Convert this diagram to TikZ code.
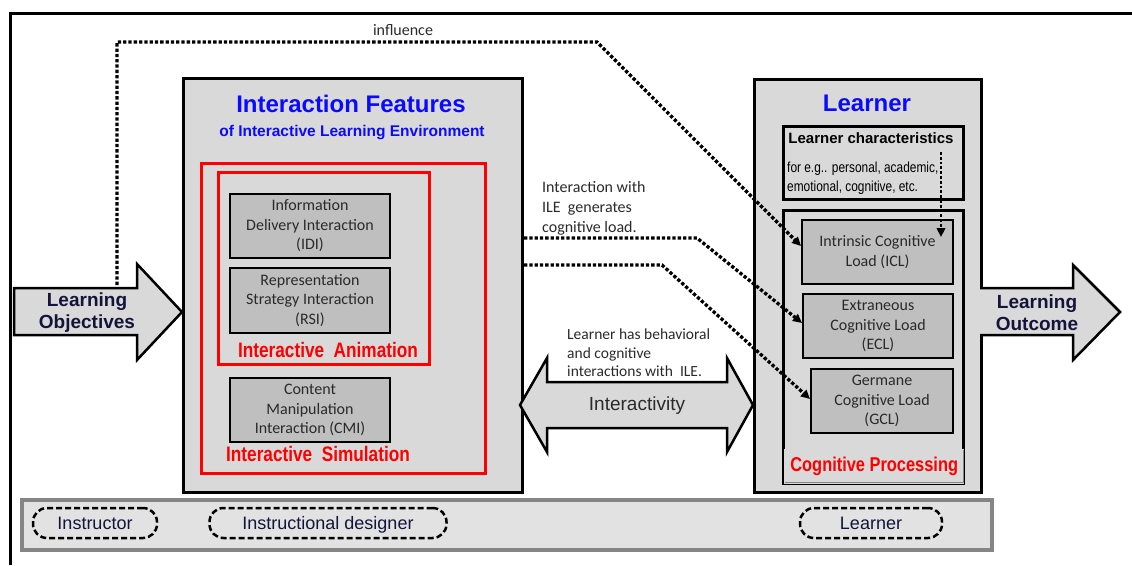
\documentclass[tikz,border=0pt]{standalone}
\usepackage{fontspec}
\setmainfont{Liberation Sans}
\newfontfamily\calib{Carlito}
\newfontfamily\narrowf[FakeStretch=0.82]{Liberation Sans}
\usetikzlibrary{arrows.meta}
\definecolor{boxgray}{HTML}{D9D9D9}
\definecolor{ingray}{HTML}{BFBFBF}
\definecolor{bandfill}{HTML}{E2E2E2}
\definecolor{bandedge}{HTML}{858585}
\definecolor{ttblue}{HTML}{0A0AFF}
\definecolor{ttred}{HTML}{FF0000}
\definecolor{txtgray}{HTML}{2A2A2A}
\definecolor{navy}{HTML}{14143A}
\tikzset{
  bigbox/.style={draw=black, line width=3pt, fill=boxgray, anchor=north west, inner sep=0pt},
  redbox/.style={draw=ttred, line width=3pt, anchor=north west, inner sep=0pt},
  inbox/.style={draw=black, line width=2pt, fill=ingray, anchor=north west, inner sep=0pt,
    text=txtgray, align=center, font=\calib\fontsize{16}{19.5}\selectfont},
  fatarrow/.style={draw=black, line width=2.5pt, fill=boxgray, line join=miter},
  dotln/.style={line width=3.3pt, dash pattern=on 3.3pt off 2pt},
  tipa/.style={-{Triangle[length=9pt,width=8.5pt]}},
  actor/.style={draw=black, line width=2.5pt, dash pattern=on 6pt off 3pt, rounded corners=14pt,
    fill=bandfill, minimum height=30pt, inner sep=0pt, text=navy, text height=15pt, text depth=2pt,
    font=\fontsize{18}{20}\selectfont},
  midtext/.style={anchor=west, align=left, text=txtgray, inner sep=0pt}
}
\begin{document}
\begin{tikzpicture}[x=1pt,y=-1pt]
\useasboundingbox (0,0) rectangle (1132,565);
% outer frame
\draw[line width=3pt] (10,565) -- (10,13) -- (1132,13);

% bottom band
\node[draw=bandedge, line width=3.5pt, fill=bandfill, anchor=north west, inner sep=0pt,
  minimum width=970pt, minimum height=50pt] (band) at (20,498) {};
\node[actor, minimum width=124pt] (instr) at (95,523) {Instructor};
\node[actor, minimum width=237pt] (idesign) at (328,523) {Instructional designer};
\node[actor, minimum width=142pt] (learnact) at (871,523) {Learner};

% Interaction features box
\node[bigbox, minimum width=339pt, minimum height=414pt] (ife) at (182,77) {};
\node[text=ttblue, font=\bfseries\fontsize{24}{26}\selectfont] (ifetitle) at (351,104) {Interaction Features};
\node[text=ttblue, font=\bfseries\fontsize{15.5}{17}\selectfont] (ifesub) at (352,133) {of Interactive Learning Environment};
\node[redbox, minimum width=284pt, minimum height=310pt] (simbox) at (200,162) {};
\node[redbox, minimum width=211pt, minimum height=192pt] (animbox) at (217,171) {};
\node[inbox, minimum width=160pt, minimum height=64pt] (idi) at (229,193) {Information\\Delivery Interaction\\(IDI)};
\node[inbox, minimum width=160pt, minimum height=65pt] (rsi) at (229,267) {Representation\\Strategy Interaction\\(RSI)};
\node[inbox, minimum width=160pt, minimum height=64pt] (cmi) at (229,377) {Content\\Manipulation\\Interaction (CMI)};
\node[text=ttred, font=\narrowf\bfseries\fontsize{21}{23}\selectfont] (animlab) at (328,350) {Interactive\ \ Animation};
\node[text=ttred, font=\narrowf\bfseries\fontsize{21}{23}\selectfont] (simlab) at (318,454) {Interactive\ \ Simulation};

% Learner box
\node[bigbox, minimum width=227pt, minimum height=413pt] (lbox) at (753,78) {};
\node[text=ttblue, font=\bfseries\fontsize{24}{26}\selectfont] (ltitle) at (867,103) {Learner};
\node[bigbox, minimum width=180pt, minimum height=73pt] (lchar) at (782,125) {};
\node[font=\bfseries\fontsize{15}{17}\selectfont] (lchartitle) at (871,138) {Learner characteristics};
\node[anchor=west, align=left, inner sep=0pt, font=\narrowf\fontsize{14.5}{19}\selectfont] (lchartext) at (787,178) {for e.g.. personal, academic,\\emotional, cognitive, etc.};
\node[bigbox, minimum width=180pt, minimum height=273pt] (cogbox) at (782,209) {};
\node[inbox, minimum width=151pt, minimum height=64pt] (icl) at (801,219) {Intrinsic Cognitive\\Load (ICL)};
\node[inbox, minimum width=150pt, minimum height=64pt] (ecl) at (802,293) {Extraneous\\Cognitive Load\\(ECL)};
\node[inbox, minimum width=142pt, minimum height=64pt] (gcl) at (810,368) {Germane\\Cognitive Load\\(GCL)};
\node[fill=boxgray, anchor=north west, inner sep=0pt,
  minimum width=180pt, minimum height=35pt, text=ttred,
  font=\narrowf\bfseries\fontsize{20}{22}\selectfont] (coglab) at (784,449) {Cognitive Processing};
\draw[bandedge, line width=1.2pt] ([xshift=-1pt,yshift=-1pt]coglab.north east) |- ([xshift=1pt,yshift=2pt]coglab.south west);

% Learning objectives arrow
\draw[fatarrow] (14,288) -- (137,288) -- (137,264) -- (182,312) -- (137,360) -- (137,335) -- (14,335) -- cycle;
\node[align=center, text=navy, font=\bfseries\fontsize{19}{22}\selectfont] (lobj) at (87,313) {Learning\\Objectives};
\coordinate (lotop) at (117,285);

% Learning outcome arrow
\draw[fatarrow] (980,288) -- (1073,288) -- (1073,265) -- (1120,312) -- (1073,360) -- (1073,335) -- (980,335);
\node[align=center, text=navy, font=\bfseries\fontsize{19}{22}\selectfont] (lout) at (1037,313) {Learning\\Outcome};

% Interactivity double arrow
\draw[fatarrow] (520,405) -- (547,358) -- (547,382) -- (727,382) -- (727,358) -- (753,405)
  -- (727,452) -- (727,428) -- (547,428) -- (547,452) -- cycle;
\node[text=txtgray, font=\fontsize{19}{21}\selectfont] (intact) at (637,406) {Interactivity};

% texts
\node[midtext, font=\calib\fontsize{16}{20}\selectfont] (gentext) at (542,208) {Interaction with\\ILE\ \ generates\\cognitive load.};
\node[midtext, font=\calib\fontsize{15.5}{18.5}\selectfont] (behtext) at (567,353) {Learner has behavioral\\and cognitive\\interactions with\ \ ILE.};
\node[text=txtgray, font=\calib\fontsize{16}{18}\selectfont] (infl) at (403,30) {influence};

% dotted connectors
\draw[dotln, tipa] (lotop) -- (117,42) -- (597,42) -- ([yshift=6pt]icl.west);
\draw[dotln, tipa] (ife.east |- 0,238) -- (697,238) -- ([yshift=3pt]ecl.west);
\draw[dotln, tipa] (ife.east |- 0,265) -- (662,265) -- ([yshift=2pt]gcl.west);
\coordinate (lcstart) at (941,152);
\coordinate (lcend) at (941,237);
\draw[line width=2.8pt, dash pattern=on 2.8pt off 2pt, tipa] (lcstart) -- (lcend);
\end{tikzpicture}
\end{document}
